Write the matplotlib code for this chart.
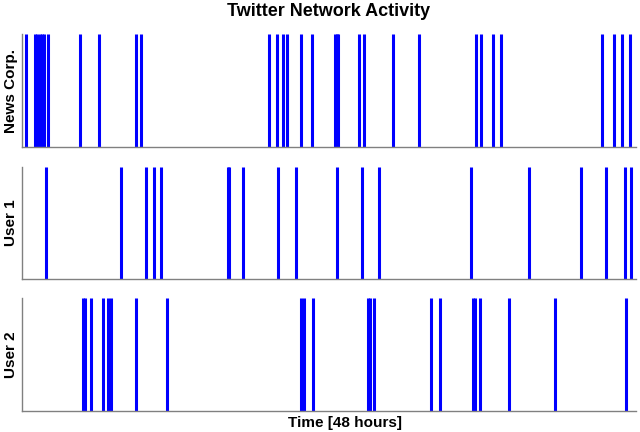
import matplotlib
matplotlib.use("Agg")
import matplotlib.pyplot as plt

# Event times in hours (0-48)
news_corp = [0.28, 0.98, 1.15, 1.37, 1.55, 1.72, 2.01, 4.53, 6.02, 8.91, 9.30,
             19.29, 19.96, 20.38, 20.72, 21.84, 22.67, 24.43, 24.59, 24.74,
             26.32, 26.74, 28.98, 31.04, 35.47, 35.91, 36.80, 37.45,
             45.32, 46.30, 46.91, 47.51]
user_1 = [1.90, 7.72, 9.69, 10.30, 10.87, 16.10, 16.22, 17.30, 20.04, 21.42,
          24.63, 26.56, 27.93, 35.10, 39.66, 43.72, 45.66, 47.12, 47.63]
user_2 = [4.77, 4.96, 5.39, 6.31, 6.76, 6.96, 8.89, 11.34, 21.81, 22.01,
          22.75, 27.01, 27.21, 27.54, 31.94, 32.68, 35.22, 35.41, 35.83,
          38.10, 41.67, 47.20]

labels = ["News Corp.", "User 1", "User 2"]
series = [news_corp, user_1, user_2]
title = "Twitter Network Activity"
xlabel = "Time [48 hours]"

plt.rcParams['font.family'] = ['Liberation Sans', 'DejaVu Sans']

fig = plt.figure(figsize=(6.4, 4.32), dpi=100)
W, H = 640, 432
panels = [(34, 147.3), (166.7, 279.3), (297.7, 410.7)]
left_px, right_px = 22, 636

for (top, bottom), data, lab in zip(panels, series, labels):
    ax = fig.add_axes([left_px / W, 1 - bottom / H, (right_px - left_px) / W,
                       (bottom - top) / H])
    ax.vlines(data, 0, 1, color='#0000ff', linewidth=2.2)
    ax.set_xlim(0, 48)
    ax.set_ylim(0, 1)
    ax.set_xticks([])
    ax.set_yticks([])
    for s in ['top', 'right']:
        ax.spines[s].set_visible(False)
    for s in ['left', 'bottom']:
        ax.spines[s].set_color('#808080')
        ax.spines[s].set_linewidth(1.0)
    fig.text(11 / W, 1 - ((top + bottom) / 2) / H, lab, rotation=90,
             ha='center', va='center', fontsize=11, fontweight='bold')

fig.text(329 / W, 1 - 12 / H, title, ha='center', va='center',
         fontsize=13, fontweight='bold')
fig.text(345 / W, 1 - 423 / H, xlabel, ha='center', va='center',
         fontsize=11, fontweight='bold')

fig.savefig("out.png", dpi=100, facecolor='white')
